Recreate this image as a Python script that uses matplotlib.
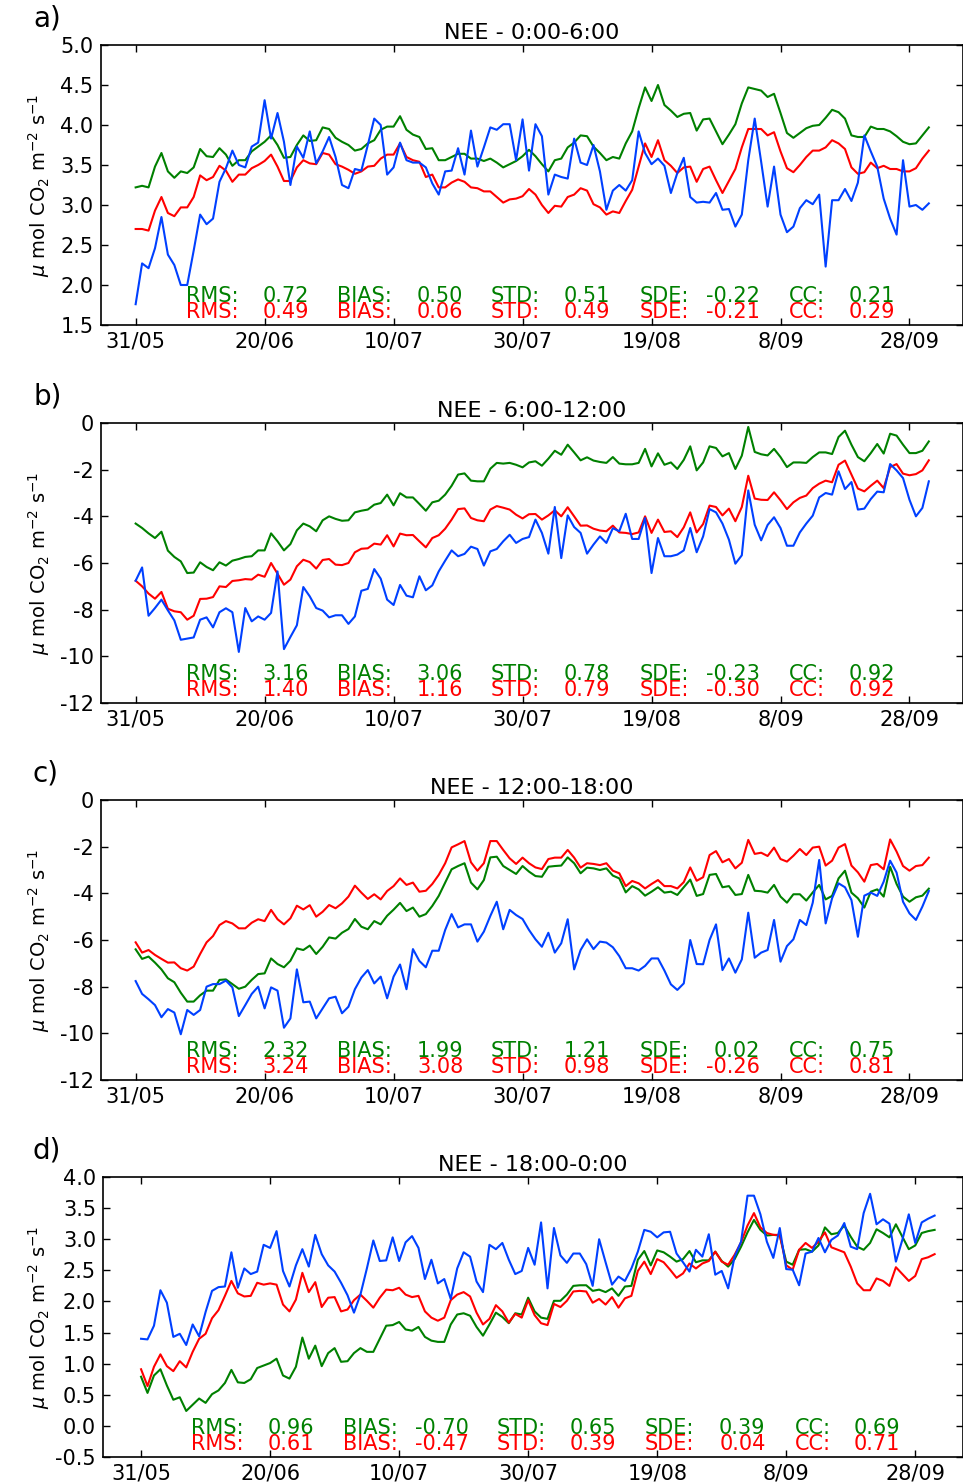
import numpy as np
import matplotlib
matplotlib.use('Agg')
import matplotlib.pyplot as plt
import matplotlib.transforms as mtransforms

# Eixo x: dias desde 31/05 (serie diaria ate 01/10)
tick_days = [0, 20, 40, 60, 80, 100, 120]
tick_labels = ['31/05', '20/06', '10/07', '30/07', '19/08', '8/09', '28/09']

# ---------------- painel a) NEE 0:00-6:00 ----------------
a_green = [3.22, 3.24, 3.22, 3.48, 3.65, 3.42, 3.34, 3.42, 3.40, 3.47, 3.70, 3.61, 3.60, 3.71, 3.63, 3.49, 3.56, 3.56, 3.67, 3.73, 3.79,
           3.87, 3.75, 3.59, 3.60, 3.75, 3.87, 3.80, 3.81, 3.97, 3.95, 3.84, 3.79, 3.75, 3.68, 3.70, 3.77, 3.81, 3.94, 3.98, 3.98, 4.11,
           3.94, 3.88, 3.85, 3.70, 3.71, 3.56, 3.56, 3.60, 3.64, 3.64, 3.58, 3.58, 3.55, 3.58, 3.53, 3.47, 3.51, 3.55, 3.61, 3.69, 3.61,
           3.51, 3.42, 3.56, 3.58, 3.72, 3.78, 3.87, 3.86, 3.73, 3.65, 3.56, 3.60, 3.58, 3.77, 3.92, 4.21, 4.47, 4.30, 4.50, 4.25, 4.18,
           4.10, 4.14, 4.15,
           3.93, 4.07, 4.08, 3.92, 3.76, 3.88, 4.01, 4.27, 4.47, 4.45, 4.43, 4.35, 4.39, 4.15, 3.90, 3.84, 3.90, 3.96, 3.99, 4.00, 4.09,
           4.19, 4.16, 4.08, 3.87, 3.85, 3.85, 3.98, 3.95, 3.95, 3.92, 3.86, 3.79, 3.76, 3.77, 3.87, 3.97]
a_red = [2.70, 2.70, 2.68, 2.93, 3.10, 2.90, 2.86, 2.97, 2.97, 3.10, 3.37, 3.31, 3.35, 3.49, 3.43, 3.29, 3.38, 3.38, 3.46, 3.50, 3.55,
         3.63, 3.48, 3.30, 3.30, 3.47, 3.56, 3.52, 3.51, 3.65, 3.63, 3.51, 3.48, 3.44, 3.39, 3.42, 3.48, 3.49, 3.58, 3.63, 3.63, 3.77,
         3.60, 3.56, 3.54, 3.35, 3.38, 3.22, 3.22, 3.28, 3.32, 3.29, 3.22, 3.21, 3.17, 3.17, 3.10, 3.03, 3.07, 3.08, 3.11, 3.20, 3.13,
         3.00, 2.90, 2.99, 2.98, 3.10, 3.13, 3.21, 3.18, 3.01, 2.97, 2.88, 2.92, 2.90, 3.05, 3.19, 3.48, 3.77, 3.60, 3.81, 3.56, 3.49,
         3.40, 3.47, 3.48,
         3.29, 3.45, 3.48, 3.31, 3.15, 3.30, 3.45, 3.72, 3.95, 3.95, 3.95, 3.87, 3.91, 3.67, 3.46, 3.41, 3.50, 3.60, 3.68, 3.68, 3.72,
         3.81, 3.77, 3.70, 3.47, 3.39, 3.41, 3.53, 3.46, 3.49, 3.45, 3.45, 3.42, 3.42, 3.46, 3.58, 3.68]
a_blue = [1.76, 2.27, 2.21, 2.46, 2.85, 2.38, 2.25, 2.00, 2.00, 2.43, 2.88, 2.76, 2.83, 3.29, 3.46, 3.68, 3.50, 3.47, 3.73, 3.78, 4.31,
          3.83, 4.15, 3.79, 3.25, 3.73, 3.59, 3.92, 3.52, 3.67, 3.85, 3.60, 3.25, 3.21, 3.45, 3.43, 3.75, 4.08, 4.00, 3.38, 3.47, 3.78,
          3.56, 3.53, 3.53, 3.47, 3.27, 3.13, 3.42, 3.43, 3.71, 3.38, 3.93, 3.48, 3.72, 3.97, 3.94, 4.01, 4.01, 3.56, 4.07, 3.43, 4.01,
          3.86, 3.13, 3.38, 3.35, 3.33, 3.83, 3.53, 3.50, 3.75, 3.42, 2.94, 3.18, 3.25, 3.18, 3.31, 3.92, 3.65, 3.51, 3.58, 3.49, 3.15,
          3.40, 3.59, 3.10,
          3.03, 3.04, 3.03, 3.15, 2.94, 2.95, 2.73, 2.88, 3.56, 4.08, 3.54, 2.98, 3.48, 2.88, 2.66, 2.73, 2.96, 3.06, 3.01, 3.13, 2.23,
          3.06, 3.06, 3.20, 3.05, 3.28, 3.87, 3.67, 3.48, 3.08, 2.83, 2.63, 3.56, 2.98, 3.00, 2.94, 3.02]

# ---------------- painel b) NEE 6:00-12:00 ----------------
b_green = [-4.31, -4.50, -4.73, -4.93, -4.66, -5.47, -5.74, -5.93, -6.43, -6.41, -5.97, -6.17, -6.31, -5.97, -6.11, -5.90, -5.83,
           -5.74, -5.71, -5.46, -5.46, -4.73, -5.07, -5.46, -5.19, -4.60, -4.31, -4.43, -4.64, -4.17, -4.00, -4.11, -4.19, -4.17,
           -3.83, -3.76, -3.71, -3.50, -3.43, -3.07, -3.53, -3.01,
           -3.19, -3.19, -3.47, -3.76, -3.40, -3.33, -3.07, -2.69, -2.21, -2.16, -2.47, -2.50, -2.50, -1.96, -1.71, -1.74, -1.71,
           -1.79, -1.90, -1.69, -1.64, -1.83, -1.53, -1.19, -1.36, -0.93, -1.26, -1.60, -1.47, -1.61, -1.67, -1.71, -1.46, -1.74,
           -1.77, -1.77, -1.71, -1.11, -1.86, -1.30, -1.79, -1.69, -1.97, -1.58, -1.00,
           -2.03, -1.69, -1.00, -1.07, -1.43, -1.29, -1.97, -1.40, -0.17, -1.24, -1.34, -1.39, -1.11, -1.46, -1.89, -1.69, -1.69,
           -1.71, -1.46, -1.26, -1.26, -1.33, -0.60, -0.33, -0.93, -1.46, -1.64, -1.29, -0.90, -1.31, -0.46, -0.54, -0.93, -1.29,
           -1.29, -1.19, -0.79]
b_red = [-6.76, -7.00, -7.31, -7.53, -7.24, -7.96, -8.07, -8.11, -8.43, -8.26, -7.54, -7.53, -7.46, -7.00, -7.03, -6.77, -6.74,
         -6.69, -6.71, -6.50, -6.59, -6.00, -6.46, -6.93, -6.71, -6.14, -5.86, -5.96, -6.24, -5.87, -5.83, -6.07, -6.09, -6.00,
         -5.54, -5.39, -5.37, -5.17, -5.21, -4.81, -5.29, -4.74,
         -4.81, -4.80, -5.07, -5.33, -4.93, -4.81, -4.53, -4.14, -3.69, -3.66, -4.07, -4.17, -4.21, -3.71, -3.56, -3.63, -3.71,
         -3.93, -4.09, -3.91, -3.90, -4.14, -3.96, -3.74, -4.00, -3.61, -4.00, -4.40, -4.39, -4.53, -4.61, -4.64, -4.40, -4.69,
         -4.71, -4.76, -4.69, -4.00, -4.71, -4.14, -4.67, -4.64, -4.89, -4.47, -3.83,
         -4.69, -4.33, -3.54, -3.60, -3.96, -3.67, -4.21, -3.60, -2.26, -3.24, -3.29, -3.30, -2.97, -3.31, -3.69, -3.40, -3.21,
         -3.11, -2.79, -2.60, -2.47, -2.54, -1.79, -1.61, -2.21, -2.81, -2.93, -2.69, -2.47, -2.79, -1.89, -1.76, -2.17, -2.24,
         -2.19, -2.03, -1.60]
b_blue = [-6.76, -6.19, -8.26, -7.93, -7.57, -8.03, -8.46, -9.29, -9.24, -9.19, -8.43, -8.33, -8.76, -8.11, -7.94, -8.11, -9.81,
          -7.93, -8.50, -8.29, -8.43, -8.14, -6.36, -9.69, -9.17, -8.67, -7.03, -7.43, -7.93, -8.04, -8.33, -8.24, -8.24, -8.61,
          -8.29, -7.19, -7.11, -6.26, -6.67, -7.57, -7.80, -6.94,
          -7.40, -7.47, -6.57, -7.17, -6.96, -6.36, -5.90, -5.46, -5.71, -5.61, -5.30, -5.40, -6.11, -5.50, -5.40, -5.07, -4.79,
          -5.14, -4.97, -4.89, -4.14, -4.71, -5.60, -3.60, -5.79, -3.96, -4.46, -4.71, -5.60, -5.21, -4.86, -5.14, -4.51, -4.64,
          -3.89, -4.97, -4.97, -4.07, -6.43, -4.93, -5.71, -5.71, -5.64, -5.46, -4.50,
          -5.54, -4.86, -3.69, -3.83, -4.31, -5.00, -6.03, -5.67, -2.89, -4.36, -5.03, -4.37, -4.04, -4.50, -5.26, -5.26, -4.69,
          -4.31, -3.97, -3.19, -3.00, -3.07, -2.07, -2.83, -2.53, -3.71, -3.67, -3.26, -2.94, -2.97, -1.76, -2.03, -2.36, -3.29,
          -4.00, -3.64, -2.50]

# ---------------- painel c) NEE 12:00-18:00 ----------------
c_green = [-6.40, -6.81, -6.71, -6.97, -7.26, -7.64, -7.81, -8.26, -8.64, -8.64, -8.37, -8.17, -8.17, -7.71, -7.69, -7.89, -8.09,
           -8.00, -7.71, -7.46, -7.43, -6.79, -7.03, -7.17, -6.89, -6.36, -6.43, -6.24, -6.60, -6.29, -5.89, -5.94, -5.69, -5.53,
           -5.10, -5.43, -5.54, -5.19, -5.33, -4.96, -4.70, -4.41,
           -4.76, -4.61, -5.00, -4.89, -4.54, -4.11, -3.54, -2.97, -2.83, -2.71, -3.54, -3.83, -3.43, -2.46, -2.43, -2.83, -3.00,
           -3.17, -2.83, -3.07, -3.26, -3.29, -2.86, -2.83, -2.81, -2.46, -2.71, -3.14, -2.90, -2.93, -3.00, -2.93, -3.24, -3.36,
           -3.96, -3.69, -3.83, -4.10, -3.93, -3.74, -3.97, -3.93, -4.07, -3.74, -3.41,
           -4.11, -4.03, -3.21, -3.17, -3.74, -3.69, -4.07, -4.03, -3.21, -3.89, -3.91, -3.97, -3.64, -4.14, -4.40, -4.04, -4.04,
           -4.31, -3.96, -3.64, -4.26, -4.11, -3.36, -3.03, -3.97, -4.21, -4.61, -3.93, -3.83, -4.14, -2.86, -3.60, -4.14, -4.36,
           -4.17, -4.10, -3.80]
c_red = [-6.10, -6.54, -6.43, -6.64, -6.81, -6.97, -6.96, -7.21, -7.31, -7.14, -6.60, -6.10, -5.83, -5.36, -5.19, -5.29, -5.50,
         -5.50, -5.26, -5.11, -5.19, -4.71, -5.11, -5.33, -5.07, -4.53, -4.69, -4.51, -5.00, -4.79, -4.50, -4.64, -4.43, -4.14,
         -3.67, -3.97, -4.24, -4.04, -4.26, -3.90, -3.69, -3.36,
         -3.64, -3.54, -3.93, -3.89, -3.60, -3.21, -2.71, -2.03, -1.90, -1.76, -2.67, -3.03, -2.71, -1.76, -1.76, -2.14, -2.50,
         -2.74, -2.47, -2.71, -2.89, -2.96, -2.53, -2.47, -2.47, -2.14, -2.47, -2.90, -2.71, -2.74, -2.79, -2.71, -3.03, -3.14,
         -3.69, -3.47, -3.57, -3.79, -3.60, -3.43, -3.69, -3.69, -3.79, -3.52, -2.89,
         -3.46, -3.31, -2.36, -2.19, -2.67, -2.53, -2.93, -2.69, -1.71, -2.31, -2.26, -2.40, -2.04, -2.53, -2.64, -2.39, -2.10,
         -2.36, -2.04, -2.00, -2.81, -2.60, -2.04, -1.89, -2.81, -3.10, -3.50, -2.79, -2.74, -2.97, -1.69, -2.21, -2.83, -3.03,
         -2.83, -2.79, -2.47]
c_blue = [-7.76, -8.31, -8.54, -8.79, -9.31, -8.96, -9.11, -10.04, -9.00, -9.21, -9.00, -8.00, -7.89, -7.89, -7.74, -8.03, -9.26,
          -8.79, -8.31, -8.00, -8.93, -8.03, -8.17, -9.76, -9.36, -7.26, -8.67, -8.64, -9.36, -8.93, -8.50, -8.43, -9.14, -8.86,
          -8.11, -7.61, -7.29, -7.86, -7.57, -8.50, -7.57, -7.05,
          -8.11, -6.39, -6.90, -7.17, -6.46, -6.46, -5.57, -4.89, -5.46, -5.33, -5.33, -6.07, -5.64, -4.97, -4.36, -5.54, -4.71,
          -4.93, -5.10, -5.57, -5.97, -6.29, -5.69, -6.54, -6.14, -5.11, -7.26, -6.43, -5.97, -6.39, -6.07, -6.11, -6.31, -6.69,
          -7.21, -7.21, -7.31, -7.11, -6.79, -6.79, -7.31, -7.90, -8.14, -7.86, -6.00,
          -7.03, -7.04, -6.00, -5.33, -7.29, -6.79, -7.40, -6.83, -4.83, -6.76, -6.54, -6.43, -5.14, -6.93, -6.26, -5.97, -5.14,
          -5.36, -4.40, -2.57, -5.29, -4.21, -3.57, -3.74, -4.29, -5.86, -4.10, -3.97, -4.11, -3.50, -2.60, -3.11, -4.36, -4.86,
          -5.14, -4.57, -3.90]

# ---------------- painel d) NEE 18:00-0:00 ----------------
d_green = [0.79, 0.53, 0.81, 0.91, 0.65, 0.42, 0.46, 0.24, 0.34, 0.44, 0.37, 0.51, 0.57, 0.69, 0.90, 0.70, 0.69, 0.75, 0.93, 0.97,
           1.01, 1.08, 0.81, 0.76, 0.95, 1.42, 1.08, 1.29, 0.96, 1.17, 1.25, 1.03, 1.04, 1.17, 1.25, 1.19, 1.19, 1.40, 1.61, 1.62,
           1.67,
           1.55, 1.53, 1.59, 1.43, 1.37, 1.35, 1.35, 1.63, 1.79, 1.81, 1.77, 1.59, 1.45, 1.63, 1.82, 1.75, 1.65, 1.81, 1.79, 2.06,
           1.84, 1.74, 1.72, 2.01, 2.01, 2.11, 2.25, 2.26, 2.26, 2.17, 2.19, 2.15, 2.21, 2.09, 2.24, 2.25, 2.67, 2.81, 2.58, 2.82,
           2.79, 2.72, 2.64, 2.68, 2.81,
           2.63, 2.66, 2.66, 2.80, 2.65, 2.56, 2.68, 2.88, 3.11, 3.31, 3.15, 3.06, 3.07, 3.06, 2.64, 2.59, 2.83, 2.84, 2.80, 2.90,
           3.19, 3.08, 3.10, 3.22, 3.04, 2.88, 2.83, 2.94, 3.16, 3.10, 3.03, 3.24, 3.04, 2.84, 2.90, 3.10, 3.13, 3.15]
d_red = [0.91, 0.64, 0.95, 1.15, 0.96, 0.88, 1.04, 0.94, 1.19, 1.40, 1.48, 1.73, 1.86, 2.09, 2.33, 2.13, 2.08, 2.09, 2.30, 2.27,
         2.29, 2.27, 1.95, 1.84, 2.03, 2.46, 2.15, 2.31, 1.91, 2.06, 2.07, 1.84, 1.87, 2.02, 2.11, 2.01, 1.90, 2.06, 2.19, 2.18,
         2.22,
         2.11, 2.07, 2.09, 1.84, 1.74, 1.69, 1.74, 2.02, 2.11, 2.15, 2.08, 1.82, 1.63, 1.72, 1.94, 1.84, 1.66, 1.80, 1.74, 2.02,
         1.78, 1.65, 1.62, 1.96, 1.91, 2.01, 2.16, 2.17, 2.16, 1.98, 2.04, 1.95, 2.07, 1.90, 2.05, 2.09, 2.49, 2.64, 2.44, 2.68,
         2.63, 2.51, 2.38, 2.45, 2.61,
         2.53, 2.61, 2.65, 2.80, 2.64, 2.59, 2.75, 2.95, 3.22, 3.42, 3.19, 3.10, 3.07, 3.07, 2.58, 2.51, 2.83, 2.94, 2.86, 2.96,
         3.11, 2.87, 2.83, 2.79, 2.56, 2.29, 2.18, 2.18, 2.37, 2.33, 2.25, 2.55, 2.44, 2.33, 2.41, 2.68, 2.71, 2.76]
d_blue = [1.40, 1.39, 1.61, 2.18, 1.98, 1.43, 1.48, 1.30, 1.63, 1.44, 1.83, 2.17, 2.23, 2.24, 2.79, 2.22, 2.53, 2.44, 2.48, 2.91,
          2.86, 3.13, 2.49, 2.24, 2.58, 2.84, 2.56, 3.07, 2.76, 2.58, 2.48, 2.30, 2.10, 1.82, 2.11, 2.53, 2.98, 2.65, 2.66, 3.03,
          2.65,
          2.95, 3.05, 2.86, 2.36, 2.67, 2.29, 2.36, 2.04, 2.53, 2.79, 2.72, 2.32, 2.15, 2.91, 2.84, 2.94, 2.67, 2.44, 2.49, 2.86,
          2.59, 3.27, 2.21, 3.18, 2.74, 2.62, 2.77, 2.77, 2.60, 2.25, 3.00, 2.63, 2.27, 2.40, 2.33, 2.53, 2.80, 3.15, 3.12, 3.03,
          3.11, 3.12, 2.77, 2.63, 2.48,
          2.83, 2.72, 3.08, 2.43, 2.49, 2.21, 2.72, 2.96, 3.70, 3.70, 3.40, 2.96, 2.70, 3.18, 2.52, 2.51, 2.26, 2.77, 2.80, 3.02,
          2.79, 2.99, 3.06, 3.26, 2.88, 2.84, 3.42, 3.73, 3.24, 3.32, 3.25, 2.64, 2.99, 3.40, 2.94, 3.27, 3.33, 3.38]

# Estatisticas (RMS, BIAS, STD, SDE, CC) de cada painel
stat_names = ['RMS:', 'BIAS:', 'STD:', 'SDE:', 'CC:']
a_stats_green = ['0.72', '0.50', '0.51', '-0.22', '0.21']
a_stats_red = ['0.49', '0.06', '0.49', '-0.21', '0.29']
b_stats_green = ['3.16', '3.06', '0.78', '-0.23', '0.92']
b_stats_red = ['1.40', '1.16', '0.79', '-0.30', '0.92']
c_stats_green = ['2.32', '1.99', '1.21', '0.02', '0.75']
c_stats_red = ['3.24', '3.08', '0.98', '-0.26', '0.81']
d_stats_green = ['0.96', '-0.70', '0.65', '0.39', '0.69']
d_stats_red = ['0.61', '-0.47', '0.39', '0.04', '0.71']

titles = ['NEE - 0:00-6:00', 'NEE - 6:00-12:00', 'NEE - 12:00-18:00', 'NEE - 18:00-0:00']
letters = ['a)', 'b)', 'c)', 'd)']

C_GREEN = '#008000'
C_RED = '#ff0000'
C_BLUE = '#0040ff'

fig = plt.figure(figsize=(9.63, 14.82), dpi=100)
W, H = 963.0, 1482.0

# posicoes dos eixos em pixels: (esquerda, topo, direita, base)
px_boxes = [(100.5, 45, 963, 325), (100.5, 423, 963, 703), (100.5, 800, 963, 1080), (103, 1177, 963, 1457)]
xlims = [(-5.45, 128.3), (-5.45, 128.3), (-5.45, 128.3), (-5.9, 127.4)]
ylims = [(1.5, 5.0), (-12, 0), (-12, 0), (-0.5, 4.0)]
yticks = [np.arange(1.5, 5.01, 0.5), np.arange(-12, 0.1, 2), np.arange(-12, 0.1, 2), np.arange(-0.5, 4.01, 0.5)]
yfmt = ['%.1f', '%d', '%d', '%.1f']

series = [(a_green, a_red, a_blue), (b_green, b_red, b_blue), (c_green, c_red, c_blue), (d_green, d_red, d_blue)]
stats = [(a_stats_green, a_stats_red), (b_stats_green, b_stats_red), (c_stats_green, c_stats_red), (d_stats_green, d_stats_red)]

# posicoes (em dias) dos rotulos e dos valores das estatisticas
label_x = [7.8, 31.3, 55.1, 78.1, 101.3]
value_x = [26.9, 50.8, 73.6, 96.8, 117.7]

for i in range(4):
    l, t, r, b = px_boxes[i]
    ax = fig.add_axes([l / W, 1 - b / H, (r - l) / W, (b - t) / H])

    g, rd, bl = series[i]
    ax.plot(np.arange(len(g)), g, color=C_GREEN, lw=1.5)
    ax.plot(np.arange(len(rd)), rd, color=C_RED, lw=1.5)
    ax.plot(np.arange(len(bl)), bl, color=C_BLUE, lw=1.5)

    ax.set_xlim(*xlims[i])
    ax.set_ylim(*ylims[i])
    ax.set_xticks(tick_days)
    ax.set_xticklabels(tick_labels, fontsize=15)
    ax.set_yticks(yticks[i])
    ax.set_yticklabels([yfmt[i] % v for v in yticks[i]], fontsize=15)
    ax.tick_params(direction='in', top=True, right=True, length=5, width=1, pad=5)
    for sp in ax.spines.values():
        sp.set_linewidth(1.2)

    ax.set_title(titles[i], fontsize=16, pad=4)
    ax.set_ylabel(r'$\mu$ mol CO$_2$ m$^{-2}$ s$^{-1}$', fontsize=14)
    ax.yaxis.set_label_coords((52 - l) / (r - l), 0.5)

    # letra do painel
    fig.text(33 / W, 1 - (t - 40) / H, letters[i], fontsize=20, ha='left', va='top')

    # texto das estatisticas (x em dias, y em fracao do eixo)
    trans = mtransforms.blended_transform_factory(ax.transData, ax.transAxes)
    sg, sr = stats[i]
    for k in range(5):
        ax.text(label_x[k], 0.083, stat_names[k], color=C_GREEN, fontsize=15, transform=trans, ha='left', va='baseline')
        ax.text(value_x[k], 0.083, sg[k], color=C_GREEN, fontsize=15, transform=trans, ha='right', va='baseline')
        ax.text(label_x[k], 0.024, stat_names[k], color=C_RED, fontsize=15, transform=trans, ha='left', va='baseline')
        ax.text(value_x[k], 0.024, sr[k], color=C_RED, fontsize=15, transform=trans, ha='right', va='baseline')

fig.savefig('out.png', dpi=100)
